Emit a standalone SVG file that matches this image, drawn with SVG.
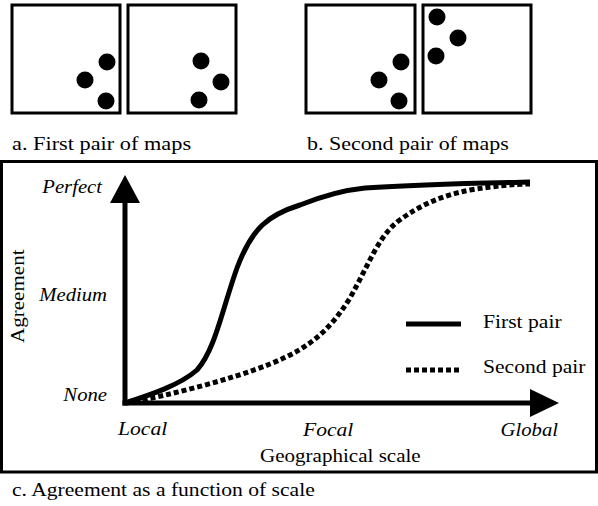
<svg xmlns="http://www.w3.org/2000/svg" width="598" height="506" viewBox="0 0 598 506">
<style>
.box{fill:#fff;stroke:#000;stroke-width:3}
.dot{fill:#000}
.ax{stroke:#000;stroke-width:5;fill:none}
.curve{stroke:#000;stroke-width:5;fill:none}
.dash{stroke-dasharray:5 3}
</style>
<rect width="598" height="506" fill="#fff"/>
<g id="map-a1"><rect class="box" x="12" y="5" width="108" height="108"/><circle class="dot" cx="107" cy="62" r="8.5"/><circle class="dot" cx="85" cy="80" r="8.5"/><circle class="dot" cx="106" cy="101" r="8.5"/></g>
<g id="map-a2"><rect class="box" x="128" y="5" width="108" height="108"/><circle class="dot" cx="201" cy="61" r="8.5"/><circle class="dot" cx="221" cy="82" r="8.5"/><circle class="dot" cx="199" cy="100" r="8.5"/></g>
<g id="map-b1"><rect class="box" x="306" y="5" width="109" height="108"/><circle class="dot" cx="401" cy="62" r="8.5"/><circle class="dot" cx="379" cy="80" r="8.5"/><circle class="dot" cx="399" cy="101" r="8.5"/></g>
<g id="map-b2"><rect class="box" x="423" y="5" width="108" height="108"/><circle class="dot" cx="437" cy="17" r="8.5"/><circle class="dot" cx="458" cy="38" r="8.5"/><circle class="dot" cx="436" cy="56" r="8.5"/></g>
<text style="font-family:'Liberation Serif';font-size:18px" transform="translate(12,150) scale(1.24,1)">a. First pair of maps</text>
<text style="font-family:'Liberation Serif';font-size:18px" transform="translate(307,150) scale(1.22,1)">b. Second pair of maps</text>
<text style="font-family:'Liberation Serif';font-size:18px" transform="translate(12,496) scale(1.2,1)">c. Agreement as a function of scale</text>
<g id="chart">
<rect class="box" x="1.5" y="161.5" width="595" height="310.5"/>
<g id="axes">
<line class="ax" x1="125" y1="200" x2="125" y2="405.5"/>
<line class="ax" x1="122.5" y1="403" x2="532" y2="403"/>
<polygon points="125,175 110,203 140,203" fill="#000"/>
<polygon points="559,403 530,389 530,417" fill="#000"/>
</g>
<g id="connectors">
<path class="curve" d="M125,403 C150,395 180,385 197,370 C215,350 222,310 237,268 C252,228 268,215 300,205 C325,195 345,190 365,188 C420,184 480,183 530,182"/>
<path class="curve dash" d="M127,403 C170,395 230,380 270,364 C310,348 330,330 350,298 C370,262 378,238 397,222 C420,205 440,196 470,190 C495,186 515,184 530,184"/>
<line class="curve" x1="406" y1="324" x2="461" y2="324"/>
<line class="curve dash" x1="406" y1="370" x2="461" y2="370"/>
</g>
<text style="font-family:'Liberation Serif';font-size:18px;font-style:italic" transform="translate(102,193) scale(1.15,1)" text-anchor="end">Perfect</text>
<text style="font-family:'Liberation Serif';font-size:18px;font-style:italic" transform="translate(107,301) scale(1.15,1)" text-anchor="end">Medium</text>
<text style="font-family:'Liberation Serif';font-size:18px;font-style:italic" transform="translate(107,401) scale(1.15,1)" text-anchor="end">None</text>
<text style="font-family:'Liberation Serif';font-size:18px;font-style:italic" transform="translate(118,435) scale(1.2,1)">Local</text>
<text style="font-family:'Liberation Serif';font-size:18px;font-style:italic" transform="translate(303,436) scale(1.2,1)">Focal</text>
<text style="font-family:'Liberation Serif';font-size:18px;font-style:italic" transform="translate(558,436) scale(1.15,1)" text-anchor="end">Global</text>
<text style="font-family:'Liberation Serif';font-size:18px" transform="translate(260,462) scale(1.17,1)">Geographical scale</text>
<text style="font-family:'Liberation Serif';font-size:18px" transform="translate(24,343) rotate(-90) scale(1.17,1)">Agreement</text>
<text style="font-family:'Liberation Serif';font-size:18px" transform="translate(483,328) scale(1.2,1)">First pair</text>
<text style="font-family:'Liberation Serif';font-size:18px" transform="translate(483,373) scale(1.2,1)">Second pair</text>
</g>
</svg>
